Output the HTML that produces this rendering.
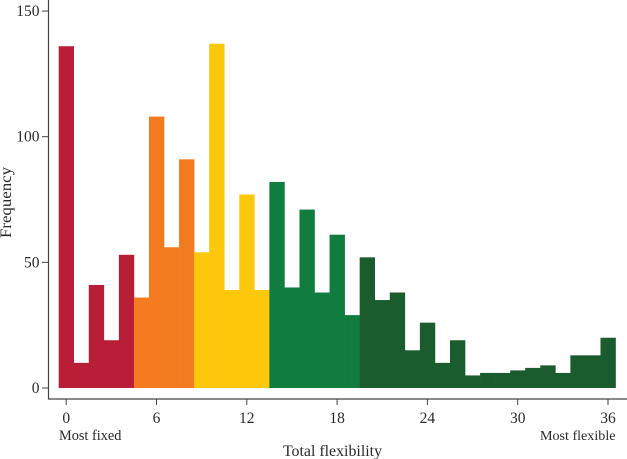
<!DOCTYPE html>
<html>
<head>
<meta charset="utf-8">
<style>
html,body{margin:0;padding:0;background:#fff;}
svg{display:block;}
text{font-family:"Liberation Serif",serif;fill:#2a2a2a;font-size:15.5px;}
</style>
</head>
<body>
<svg id="chart" width="627" height="459" viewBox="0 0 627 459" xmlns="http://www.w3.org/2000/svg"></svg>
<script>
const frequencies = [136,10,41,19,53,36,108,56,91,54,137,39,77,39,82,40,71,38,61,29,52,35,38,15,26,10,19,5,6,6,7,8,9,6,13,13,20];
const groupUpperBounds = [4,8,13,19,36];
const groupColors = ['#b81e36','#f47a20','#fdc70c','#107c3e','#1a5c2e'];
const xTicks = [0,6,12,18,24,30,36];
const yTicks = [0,50,100,150];

const NS = 'http://www.w3.org/2000/svg';
const svg = document.getElementById('chart');
const xs = v => 66.2 + v * 15.05;
const ys = v => 388 - v * 2.513;

function make(tag, attrs, text) {
  const el = document.createElementNS(NS, tag);
  for (const k in attrs) el.setAttribute(k, attrs[k]);
  if (text !== undefined) el.textContent = text;
  svg.appendChild(el);
  return el;
}

frequencies.forEach((f, i) => {
  const g = groupUpperBounds.findIndex(b => i <= b);
  const r = make('rect', {x: xs(i - 0.5), y: ys(f), width: 15.35, height: ys(0) - ys(f), fill: groupColors[g]});
  
  
});

const yAxis = make('line', {x1: 48.5, y1: 0, x2: 48.5, y2: 399.5, stroke: '#444', 'stroke-width': 1.2});


const xAxis = make('line', {x1: 48, y1: 399, x2: 627, y2: 399, stroke: '#444', 'stroke-width': 1.2});



xTicks.forEach(t => {
  const tick = make('line', {x1: xs(t), y1: 399, x2: xs(t), y2: 405, stroke: '#444', 'stroke-width': 1});
  
  
  const label = make('text', {x: xs(t), y: 423, 'text-anchor': 'middle'}, t);
  
  
});

yTicks.forEach(t => {
  const tick = make('line', {x1: 42, y1: ys(t), x2: 48, y2: ys(t), stroke: '#444', 'stroke-width': 1});
  
  
  const label = make('text', {x: 39.5, y: ys(t) + 5, 'text-anchor': 'end'}, t);
  
  
});

const fixedLabel = make('text', {x: 59, y: 440}, 'Most fixed');
fixedLabel.style.fontSize = '14.3px';


const flexibleLabel = make('text', {x: 615.5, y: 440, 'text-anchor': 'end'}, 'Most flexible');
flexibleLabel.style.fontSize = '14.1px';


const xTitle = make('text', {x: 332.5, y: 456, 'text-anchor': 'middle'}, 'Total flexibility');
xTitle.style.fontSize = '15.9px';


const yTitle = make('text', {x: 10.8, y: 202.5, 'text-anchor': 'middle', textLength: 71, lengthAdjust: 'spacingAndGlyphs', transform: 'rotate(-90 10.8 202.5)'}, 'Frequency');
yTitle.style.fontSize = '15.4px';


</script>
</body>
</html>
